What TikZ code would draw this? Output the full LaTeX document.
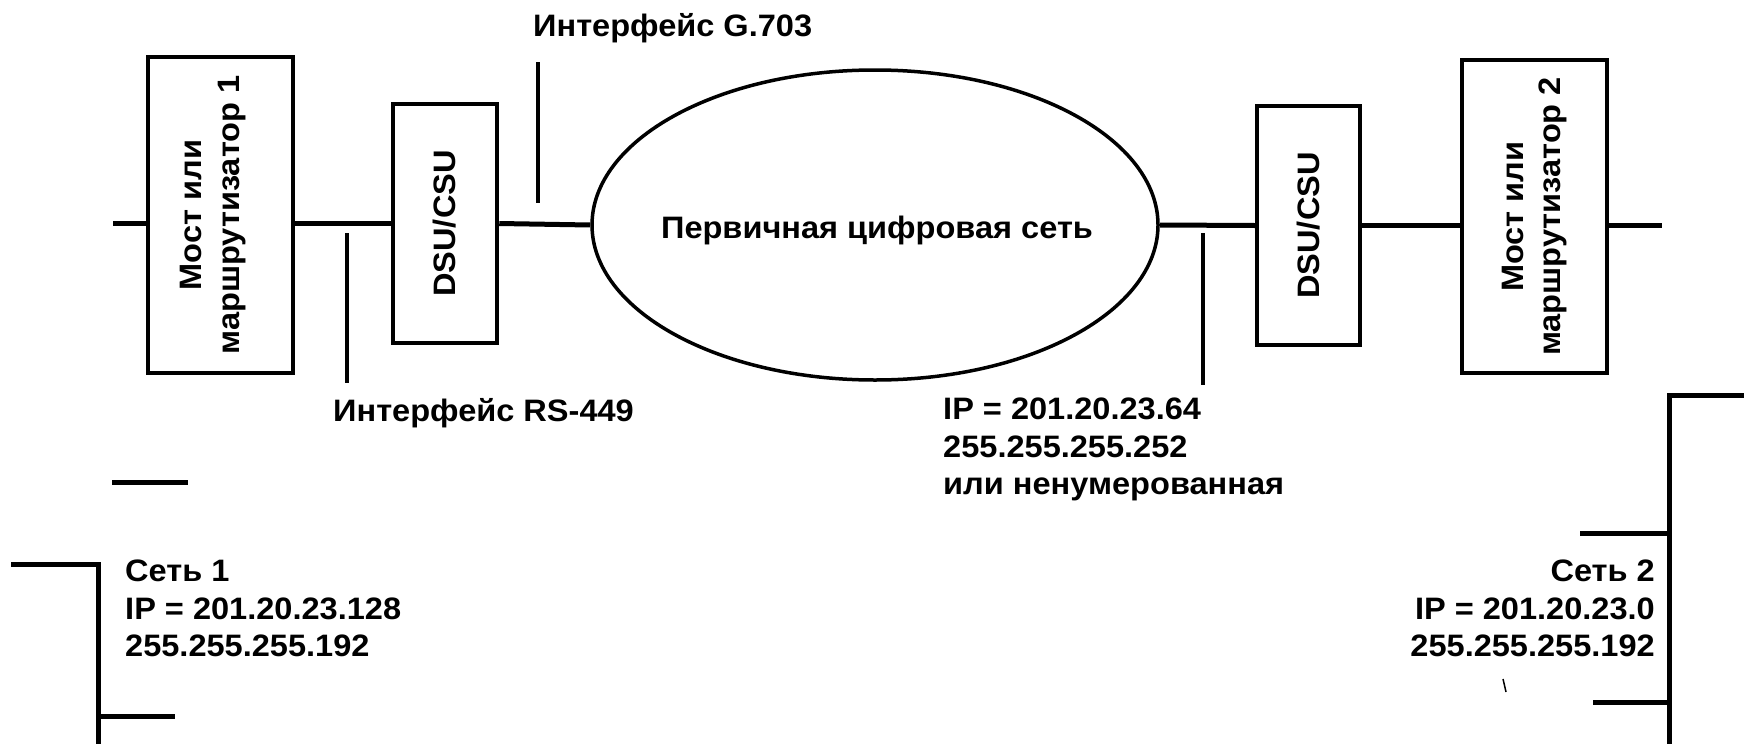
\documentclass[tikz,border=0pt]{standalone}
\usepackage{fontspec}
\usetikzlibrary{shapes.geometric}
\newfontfamily\lblfont{Liberation Sans Bold}[FakeStretch=1.05]
\tikzset{
  dev/.style={draw, line width=4.5pt, inner sep=0pt},
  wire/.style={line width=5pt},
  tickline/.style={line width=3.2pt},
  lbl/.style={font=\lblfont\fontsize{31}{37.5}\selectfont, inner sep=0pt},
}
\begin{document}
\begin{tikzpicture}[x=1pt,y=-1pt]
\useasboundingbox (0,0) rectangle (1744,744);
% devices
\node[dev, minimum width=145pt, minimum height=316pt] (r1) at (220.5,215) {};
\node[lbl, rotate=90, align=center] (r1t) at (213,215) {Мост или\\маршрутизатор 1};
\node[dev, minimum width=104pt, minimum height=239pt] (dsu1) at (445,223.5) {};
\node[lbl, rotate=90] (dsu1t) at (dsu1.center) {DSU/CSU};
\node[draw, ellipse, line width=3.5pt, minimum width=566pt, minimum height=310pt, inner sep=0pt] (net) at (875,225) {};
\node[lbl] (nett) at (877,230) {Первичная цифровая сеть};
\node[dev, minimum width=103pt, minimum height=239pt] (dsu2) at (1308.5,225.5) {};
\node[lbl, rotate=90] (dsu2t) at (dsu2.center) {DSU/CSU};
\node[dev, minimum width=145pt, minimum height=313pt] (r2) at (1534.5,216.5) {};
\node[lbl, rotate=90, align=center] (r2t) at (r2.center) {Мост или\\маршрутизатор 2};
% wires
\coordinate (sl) at (113,223);
\coordinate (sr) at (1662,225.5);
\draw[wire] (sl) -- (sl -| r1.west);
\draw[wire] (r1.east |- dsu1.west) -- (dsu1.west);
\draw[wire] (dsu1.east) -- (net.west);
\draw[wire] (net.east) -- (dsu2.west);
\draw[wire] (dsu2.east) -- (dsu2.east -| r2.west);
\draw[wire] (r2.east |- sr) -- (sr);
% interface ticks
\coordinate (g1) at (538,62);  \coordinate (g2) at (538,203);
\coordinate (rs1) at (347,233); \coordinate (rs2) at (347,383);
\coordinate (ip1) at (1203,233); \coordinate (ip2) at (1203,385);
\draw[tickline] (g1) -- (g2);
\draw[tickline] (rs1) -- (rs2);
\draw[tickline] (ip1) -- (ip2);
% labels
\node[lbl, anchor=north west] (lg) at (533,13) {Интерфейс G.703};
\node[lbl, anchor=north west] (lrs) at (333,398) {Интерфейс RS-449};
\node[lbl, anchor=north west, align=left] (lip) at (943,398) {IP = 201.20.23.64\\255.255.255.252\\или ненумерованная};
% network 1 bracket
\coordinate (a1) at (11,564); \coordinate (a2) at (98,564); \coordinate (a3) at (98,744);
\coordinate (a4) at (98,716); \coordinate (a5) at (175,716);
\coordinate (a6) at (112,482); \coordinate (a7) at (188,482);
\draw[wire] (a1) -- (a2) -- (a3);
\draw[wire] (a4) -- (a5);
\draw[wire] (a6) -- (a7);
\node[lbl, anchor=north west, align=left] (n1) at (125,560) {Сеть 1\\IP = 201.20.23.128\\255.255.255.192};
% network 2 bracket
\coordinate (b1) at (1744,395); \coordinate (b2) at (1669,395); \coordinate (b3) at (1669,744);
\coordinate (b4) at (1580,533); \coordinate (b5) at (1669,533);
\coordinate (b6) at (1593,702); \coordinate (b7) at (1669,702);
\draw[wire] (b1) -- (b2) -- (b3);
\draw[wire] (b4) -- (b5);
\draw[wire] (b6) -- (b7);
\node[lbl, anchor=north east, align=right] (n2) at (1655,560) {Сеть 2\\IP = 201.20.23.0\\255.255.255.192};
\coordinate (s1) at (1503,679); \coordinate (s2) at (1506,692);
\draw[line width=1.5pt] (s1) -- (s2);
\end{tikzpicture}
\end{document}
